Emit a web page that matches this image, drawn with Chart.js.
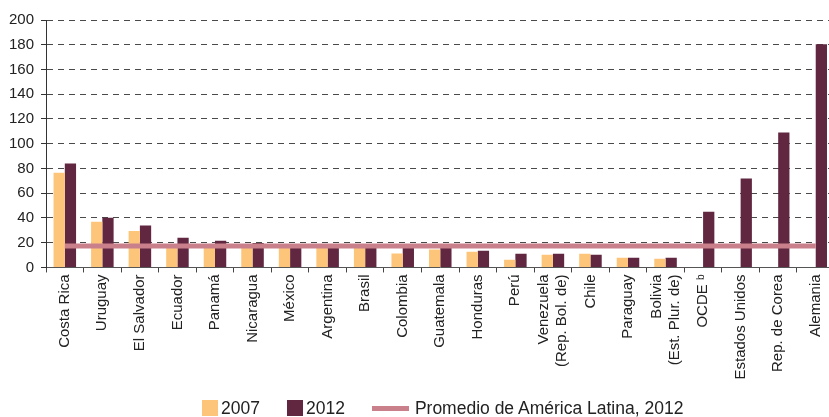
<!DOCTYPE html>
<html>
<head>
<meta charset="utf-8">
<script src="https://cdn.jsdelivr.net/npm/chart.js@4.4.1/dist/chart.umd.min.js"></script>
<style>
  html, body { margin: 0; padding: 0; overflow: hidden; background: #fff; }
  #wrap { position: relative; width: 836px; height: 417px; }
  #legend {
    position: absolute; left: 202px; top: 400px; height: 16px;
    display: flex; align-items: center;
    font-family: 'Liberation Sans', Arial, sans-serif; font-size: 17.5px; color: #222;
  }
  .item { display: flex; align-items: center; margin-right: 27px; white-space: nowrap; }
  .box { width: 16px; height: 16px; margin-right: 3px; }
  .line { width: 37px; height: 5px; margin-right: 6px; }
</style>
</head>
<body>
<div id="wrap">
  <canvas id="chart"></canvas>
  <div id="legend"></div>
</div>
<script>
// data
const categories = [
  'Costa Rica', 'Uruguay', 'El Salvador', 'Ecuador', 'Panamá', 'Nicaragua',
  'México', 'Argentina', 'Brasil', 'Colombia', 'Guatemala', 'Honduras', 'Perú',
  ['Venezuela', '(Rep. Bol. de)'], 'Chile', 'Paraguay', ['Bolivia', '(Est. Plur. de)'],
  'OCDE ᵇ', 'Estados Unidos', 'Rep. de Corea', 'Alemania'
];
const values2007 = [76.5, 37, 29.5, 18, 17.5, 17.5, 17, 17.5, 17.5, 11.3, 14.5, 12.7, 6.2, 10.3, 11.1, 7.9, 7, null, null, null, null];
const values2012 = [84, 40.2, 33.8, 24, 21.6, 19.7, 17.5, 17.5, 17.5, 17, 16, 13.5, 11.1, 11.1, 10.3, 7.9, 7.9, 45, 71.8, 109, 180.5];
const promedioAL = [17.4, 17.4, 17.4, 17.4, 17.4, 17.4, 17.4, 17.4, 17.4, 17.4, 17.4, 17.4, 17.4, 17.4, 17.4, 17.4, 17.4, 17.4, 17.4, 17.4, 17.4];
const yTicks = [0, 20, 40, 60, 80, 100, 120, 140, 160, 180, 200];

const colors = { y2007: '#fdc57a', y2012: '#612741', avg: '#c9808b' };
const fontFamily = "'Liberation Sans', Arial, sans-serif";
const labelSize = 15;

// two-line rotated labels: centre both lines on the tick instead of hanging right
const centerMultiline = {
  id: 'centerMultiline',
  beforeDraw(chart) {
    const scale = chart.scales.x;
    const lineHeight = labelSize * 1.2;
    scale.getLabelItems(chart.chartArea).forEach(item => {
      if (Array.isArray(item.label) && !item._shifted) {
        item.options.translation[0] -= lineHeight * (item.label.length - 1) / 2;
        item._shifted = true;
      }
    });
  },
};

const chart = new Chart(document.getElementById('chart'), {
  type: 'bar',
  data: {
    labels: categories,
    datasets: [
      { label: '2007', data: values2007, backgroundColor: colors.y2007, order: 1 },
      { label: '2012', data: values2012, backgroundColor: colors.y2012, order: 1 },
      {
        type: 'line',
        label: 'Promedio de América Latina, 2012',
        data: promedioAL,
        borderColor: colors.avg,
        backgroundColor: colors.avg,
        borderWidth: 5,
        pointRadius: 0,
        order: 0,
      },
    ],
  },
  plugins: [centerMultiline],
  options: {
    responsive: true,
    maintainAspectRatio: false,
    animation: false,
    datasets: { bar: { categoryPercentage: 0.6, barPercentage: 1.0 } },
    layout: { padding: { left: 2, top: 20, right: 1.5, bottom: 35.5 } },
    plugins: { legend: { display: false }, tooltip: { enabled: false } },
    scales: {
      x: {
        grid: { drawOnChartArea: false, tickLength: 5, color: '#444', offset: true },
        border: { color: '#555', width: 1 },
        ticks: {
          autoSkip: false, minRotation: 90, maxRotation: 90, padding: 2,
          color: '#222', font: { family: fontFamily, size: labelSize },
        },
      },
      y: {
        min: yTicks[0],
        max: yTicks[yTicks.length - 1],
        afterBuildTicks: axis => { axis.ticks = yTicks.map(v => ({ value: v })); },
        grid: { color: '#4a4a4a', tickLength: 5, tickColor: '#333' },
        border: { color: '#333', dash: [6, 5] },
        ticks: { padding: 7, color: '#222', font: { family: fontFamily, size: labelSize } },
      },
    },
  },
});

// html legend built from the datasets
const legend = document.getElementById('legend');
chart.data.datasets.forEach(ds => {
  const item = document.createElement('div');
  item.className = 'item';
  const swatch = document.createElement('span');
  swatch.className = ds.type === 'line' ? 'line' : 'box';
  swatch.style.background = ds.type === 'line' ? ds.borderColor : ds.backgroundColor;
  const text = document.createElement('span');
  text.textContent = ds.label;
  item.appendChild(swatch);
  item.appendChild(text);
  legend.appendChild(item);
});
</script>
</body>
</html>
